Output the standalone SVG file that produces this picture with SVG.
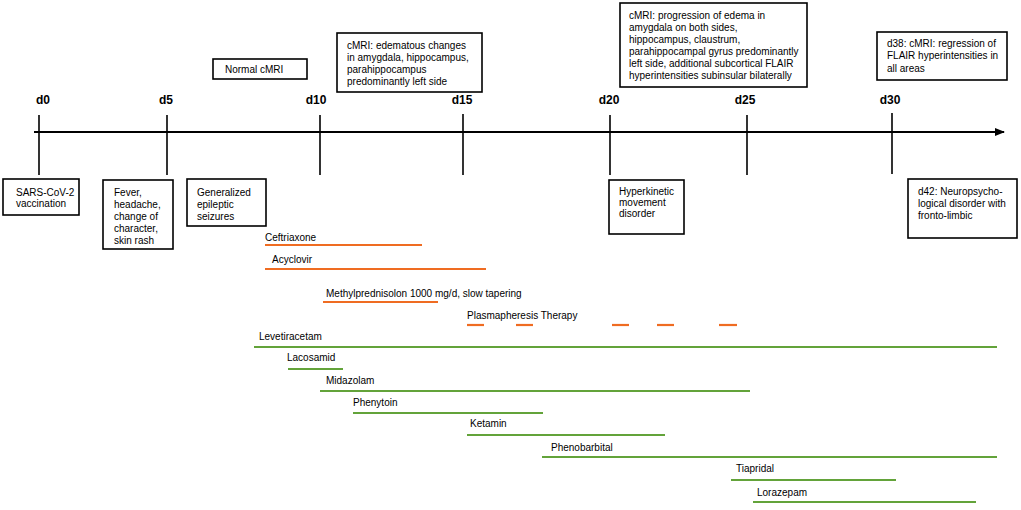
<svg xmlns="http://www.w3.org/2000/svg" width="1021" height="510" viewBox="0 0 1021 510">
<style>
text{font-family:"Liberation Sans",Arial,sans-serif;font-size:10px;fill:#000}
.day{font-weight:bold;font-size:12px;text-anchor:middle}
.box{fill:#fff;stroke:#000;stroke-width:1.6}
.tick{stroke:#000;stroke-width:1.6}
.axis{stroke:#000;stroke-width:2}
.or{stroke:#EF6C22;stroke-width:2.2}
.gr{stroke:#63A33A;stroke-width:2.2}
</style>
<defs>
<marker id="arr" markerWidth="10" markerHeight="8" refX="9" refY="4" orient="auto" markerUnits="userSpaceOnUse">
<path d="M0,0 L10,4 L0,8 Z" fill="#000"/>
</marker>
</defs>
<g id="connectors">
<line class="axis" x1="34" y1="132" x2="1004" y2="132" marker-end="url(#arr)"/>
<line class="tick" x1="39" y1="115" x2="39" y2="175"/>
<line class="tick" x1="167" y1="115" x2="167" y2="175"/>
<line class="tick" x1="320" y1="115" x2="320" y2="175"/>
<line class="tick" x1="463" y1="114" x2="463" y2="175"/>
<line class="tick" x1="610" y1="115" x2="610" y2="175"/>
<line class="tick" x1="747" y1="115" x2="747" y2="175"/>
<line class="tick" x1="892" y1="113" x2="892" y2="174"/>
</g>
<g id="days">
<text class="day" x="43" y="104">d0</text>
<text class="day" x="166" y="104">d5</text>
<text class="day" x="316" y="104">d10</text>
<text class="day" x="462" y="104">d15</text>
<text class="day" x="609" y="104">d20</text>
<text class="day" x="745" y="104">d25</text>
<text class="day" x="890" y="104">d30</text>
</g>
<g id="n-normal">
<rect class="box" x="213" y="59" width="94" height="20"/>
<text x="225" y="72.5">Normal cMRI</text>
</g>
<g id="n-edematous">
<rect class="box" x="337" y="33" width="145" height="59"/>
<text x="347" y="48.5">cMRI: edematous changes</text>
<text x="347" y="60.5">in amygdala, hippocampus,</text>
<text x="347" y="72.5">parahippocampus</text>
<text x="347" y="84.5">predominantly left side</text>
</g>
<g id="n-progression">
<rect class="box" x="620" y="3" width="187" height="84"/>
<text x="629" y="18.5">cMRI: progression of edema in</text>
<text x="629" y="30.5">amygdala on both sides,</text>
<text x="629" y="42.5">hippocampus, claustrum,</text>
<text x="629" y="54.5">parahippocampal gyrus predominantly</text>
<text x="629" y="66.5">left side, additional subcortical FLAIR</text>
<text x="629" y="78.5">hyperintensities subinsular bilaterally</text>
</g>
<g id="n-d38">
<rect class="box" x="877" y="32" width="130" height="48"/>
<text x="887" y="46.5">d38: cMRI: regression of</text>
<text x="887" y="59">FLAIR hyperintensities in</text>
<text x="887" y="71.5">all areas</text>
</g>
<g id="n-vaccination">
<rect class="box" x="3" y="179" width="76" height="36"/>
<text x="16" y="195.5">SARS-CoV-2</text>
<text x="16" y="207">vaccination</text>
</g>
<g id="n-fever">
<rect class="box" x="103" y="180" width="70" height="69"/>
<text x="114" y="195.5">Fever,</text>
<text x="114" y="207.7">headache,</text>
<text x="114" y="219.9">change of</text>
<text x="114" y="232.1">character,</text>
<text x="114" y="244.3">skin rash</text>
</g>
<g id="n-seizures">
<rect class="box" x="187" y="179" width="79" height="47"/>
<text x="197" y="195.5">Generalized</text>
<text x="197" y="208">epileptic</text>
<text x="197" y="220">seizures</text>
</g>
<g id="n-hyperkinetic">
<rect class="box" x="609" y="180" width="75" height="54"/>
<text x="619" y="195">Hyperkinetic</text>
<text x="619" y="206.2">movement</text>
<text x="619" y="217.4">disorder</text>
</g>
<g id="n-d42">
<rect class="box" x="908" y="179" width="109" height="59"/>
<text x="918" y="195">d42: Neuropsycho-</text>
<text x="918" y="207">logical disorder with</text>
<text x="918" y="218.5">fronto-limbic</text>
</g>
<g id="t-ceftriaxone">
<text x="265" y="240.5">Ceftriaxone</text>
<line class="or" x1="265" y1="245" x2="422" y2="245"/>
</g>
<g id="t-acyclovir">
<text x="272" y="262.5">Acyclovir</text>
<line class="or" x1="265" y1="269" x2="486" y2="269"/>
</g>
<g id="t-methylprednisolon">
<text x="326" y="296.5">Methylprednisolon 1000 mg/d, slow tapering</text>
<line class="or" x1="323" y1="302" x2="438" y2="302"/>
</g>
<g id="t-plasmapheresis">
<text x="467" y="318.5">Plasmapheresis Therapy</text>
<line class="or" x1="467" y1="325" x2="484" y2="325"/>
<line class="or" x1="516" y1="325" x2="533" y2="325"/>
<line class="or" x1="612" y1="325" x2="629" y2="325"/>
<line class="or" x1="657" y1="325" x2="674" y2="325"/>
<line class="or" x1="719" y1="325" x2="737" y2="325"/>
</g>
<g id="t-levetiracetam">
<text x="259" y="339.5">Levetiracetam</text>
<line class="gr" x1="254" y1="347" x2="997" y2="347"/>
</g>
<g id="t-lacosamid">
<text x="287" y="360.5">Lacosamid</text>
<line class="gr" x1="288" y1="369" x2="343" y2="369"/>
</g>
<g id="t-midazolam">
<text x="326" y="383.5">Midazolam</text>
<line class="gr" x1="320" y1="391" x2="750" y2="391"/>
</g>
<g id="t-phenytoin">
<text x="353" y="405.5">Phenytoin</text>
<line class="gr" x1="353" y1="413" x2="543" y2="413"/>
</g>
<g id="t-ketamin">
<text x="470" y="426.5">Ketamin</text>
<line class="gr" x1="467" y1="435" x2="665" y2="435"/>
</g>
<g id="t-phenobarbital">
<text x="551" y="450.5">Phenobarbital</text>
<line class="gr" x1="542" y1="457" x2="997" y2="457"/>
</g>
<g id="t-tiapridal">
<text x="736" y="471.5">Tiapridal</text>
<line class="gr" x1="731" y1="480" x2="896" y2="480"/>
</g>
<g id="t-lorazepam">
<text x="757" y="495.5">Lorazepam</text>
<line class="gr" x1="753" y1="502" x2="976" y2="502"/>
</g>
</svg>
